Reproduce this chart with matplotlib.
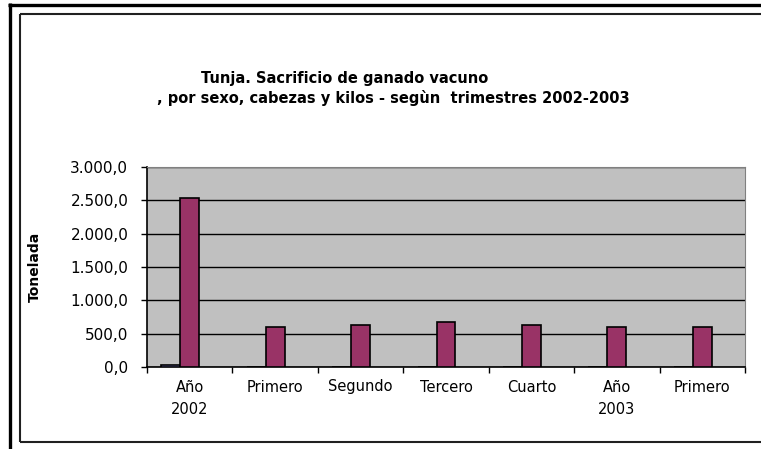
import matplotlib.pyplot as plt
import numpy as np
from matplotlib.lines import Line2D

categories = ['Año\n2002', 'Primero', 'Segundo', 'Tercero', 'Cuarto', 'Año\n2003', 'Primero']
serie_1 = [25, 0, 0, 0, 0, 0, 0]
toneladas = [2530, 600, 625, 680, 625, 600, 600]
serie_3 = [0, 0, 0, 0, 0, 0, 0]
yticks = [0, 500, 1000, 1500, 2000, 2500, 3000]
ytick_labels = ['0,0', '500,0', '1.000,0', '1.500,0', '2.000,0', '2.500,0', '3.000,0']

W, H = 761, 449
plt.rcParams['font.family'] = 'DejaVu Sans'
fig = plt.figure(figsize=(W / 100, H / 100), dpi=100)

ax = fig.add_axes([147 / W, 1 - 367 / H, (745 - 147) / W, (367 - 167) / H])
ax.set_facecolor('#C0C0C0')

x = np.arange(len(categories))
bw = 0.222
ax.bar(x - bw, serie_1, bw, color='#9999FF', edgecolor='black', linewidth=1.2, zorder=3)
ax.bar(x, toneladas, bw, color='#993366', edgecolor='black', linewidth=1.2, zorder=3)
ax.bar(x + bw, serie_3, bw, color='#FFFFCC', edgecolor='none', linewidth=0, zorder=3)

ax.set_ylim(0, 3000)
ax.set_xlim(-0.5, len(categories) - 0.5)
ax.set_yticks(yticks)
ax.set_yticklabels(ytick_labels, fontsize=11)
ax.yaxis.grid(True, color='black', linewidth=1.0, zorder=1)
ax.set_axisbelow(True)

ax.set_xticks(np.arange(-0.5, len(categories)), labels=[''] * (len(categories) + 1))
ax.set_xticks(x, labels=categories, minor=True)
ax.tick_params(axis='x', which='minor', length=0, pad=9, labelsize=10.5)
ax.tick_params(axis='x', which='major', direction='out', length=4.5, width=1, color='black')
ax.tick_params(axis='y', direction='out', length=4.5, width=1, pad=9)
for lbl in ax.get_xticklabels(minor=True):
    lbl.set_linespacing(1.6)

ax.spines['left'].set_color('black')
ax.spines['bottom'].set_color('black')
ax.spines['left'].set_linewidth(1.2)
ax.spines['bottom'].set_linewidth(1.2)
ax.spines['top'].set_color('#808080')
ax.spines['right'].set_color('#808080')

ax.set_ylabel('Tonelada', fontsize=10, fontweight='bold')
ax.yaxis.set_label_coords(-(147 - 42) / (745 - 147), 0.5)

fig.text(345 / W, 1 - 79 / H, 'Tunja. Sacrificio de ganado vacuno',
         ha='center', va='center', fontsize=10.5, fontweight='bold')
fig.text(393 / W, 1 - 98 / H, ', por sexo, cabezas y kilos - segùn  trimestres 2002-2003',
         ha='center', va='center', fontsize=10.5, fontweight='bold')

# marcos
def px_line(xs, ys, lw, color='black'):
    fig.add_artist(Line2D([v / W for v in xs], [1 - v / H for v in ys],
                          transform=fig.transFigure, color=color, linewidth=lw,
                          solid_capstyle='butt'))

px_line([8, W], [4.5, 4.5], 2.4)
px_line([9.5, 9.5], [3, H], 2.4)
px_line([20, W], [13.5, 13.5], 1.5, '#202020')
px_line([20, 20], [13.5, 441.5], 1.5, '#202020')
px_line([20, W], [441.5, 441.5], 1.5, '#202020')

fig.savefig('out.png', dpi=100)
